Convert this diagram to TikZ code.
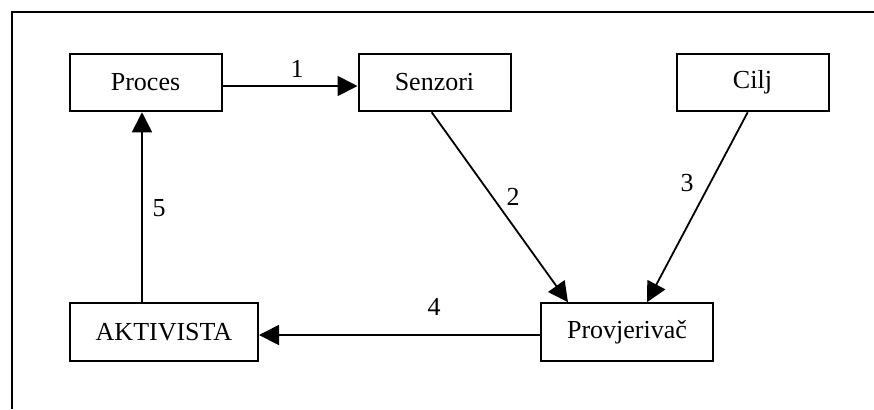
\documentclass[tikz,border=0pt]{standalone}
\usepackage{fontspec}
\setmainfont{Liberation Serif}
\usetikzlibrary{arrows.meta}
\tikzset{
  box/.style={draw, line width=1pt, minimum height=28.75pt, inner sep=0pt, font=\fontsize{13}{15}\selectfont},
  conn/.style={line width=0.9pt, -{Triangle[length=10pt,width=10pt]}},
  lbl/.style={font=\fontsize{13}{15}\selectfont, inner sep=0pt},
  frameline/.style={line width=1pt}
}
\begin{document}
\begin{tikzpicture}[x=0.5pt,y=-0.5pt]
\useasboundingbox (0,0) rectangle (874,409);
\coordinate (fbl) at (12,409);
\coordinate (ftl) at (12,12);
\coordinate (ftr) at (874,12);
\draw[frameline] (fbl) -- (ftl) -- (ftr);

\node[box, minimum width=76pt] (proces) at (145.5,82.5) {Proces};
\node[box, minimum width=76pt] (senzori) at (434.5,82.5) {Senzori};
\node[box, minimum width=76pt] (cilj) at (752.5,82.5) {Cilj};
\node[box, minimum width=94pt] (aktivista) at (164,332) {AKTIVISTA};
\node[box, minimum width=86pt] (provj) at (627,332) {Provjerivač};

\draw[conn] ([yshift=-1.75pt]proces.east) -- ([yshift=-1.75pt]senzori.west);
\draw[conn] ([xshift=-1.4pt]senzori.south) -- ([xshift=-29.5pt]provj.north);
\draw[conn] ([xshift=-2.4pt]cilj.south) -- ([xshift=10pt]provj.north);
\draw[conn] ([yshift=-1.5pt]provj.west) -- ([yshift=-1.5pt]aktivista.east);
\draw[conn] ([xshift=-11pt]aktivista.north) -- ([xshift=-1.75pt]proces.south);

\node[lbl] (l1) at (297,69) {1};
\node[lbl] (l2) at (513,197) {2};
\node[lbl] (l3) at (687,183) {3};
\node[lbl] (l4) at (434,307) {4};
\node[lbl] (l5) at (159,208) {5};
\end{tikzpicture}
\end{document}
